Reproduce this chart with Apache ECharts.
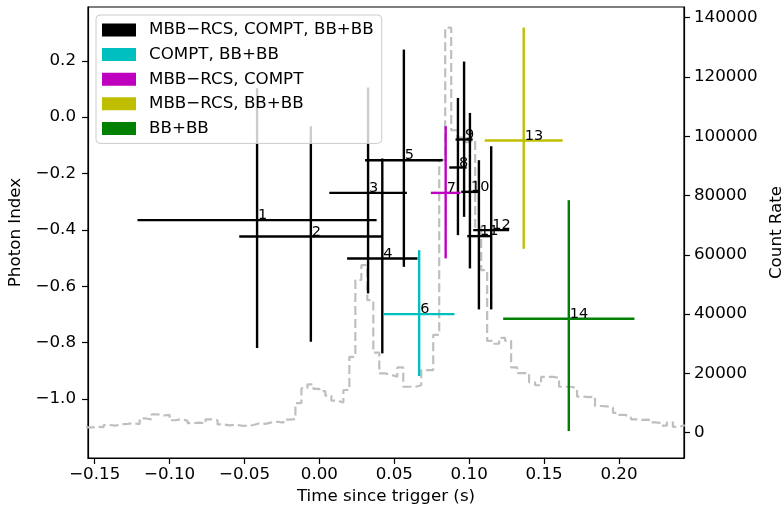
<!DOCTYPE html>
<html>
<head>
<meta charset="utf-8">
<script src="https://cdn.jsdelivr.net/npm/echarts@6/dist/echarts.min.js"></script>
<style>
  html, body { margin: 0; padding: 0; background: #ffffff; }
  #chart { width: 784px; height: 506px; }
</style>
</head>
<body>
<div id="chart"></div>
<script>
// Time-resolved spectral fits: photon index per interval, with the burst light curve behind.
const spectrumId = [1, 2, 3, 4, 5, 6, 7, 8, 9, 10, 11, 12, 13, 14];
const spectrumTime = [-0.0416, -0.0057, 0.0325, 0.0420, 0.0564, 0.0666, 0.0843, 0.0925, 0.0966, 0.1005, 0.1065, 0.1147, 0.1364, 0.1665];
const spectrumHalfWidth = [0.0798, 0.0478, 0.0259, 0.0235, 0.0259, 0.0236, 0.0099, 0.0058, 0.0057, 0.0058, 0.0078, 0.0120, 0.0260, 0.0438];
const photonIndex = [-0.3656, -0.4234, -0.2688, -0.5014, -0.1528, -0.6989, -0.2688, -0.1787, -0.0794, -0.2652, -0.4223, -0.4011, -0.0830, -0.7156];
const photonIndexLow = [-0.8195, -0.7972, -0.6255, -0.8383, -0.5312, -0.9188, -0.5014, -0.4188, -0.3539, -0.5369, -0.6823, -0.6823, -0.4674, -1.1138];
const photonIndexHigh = [0.1025, -0.0323, 0.1050, -0.1468, 0.2397, -0.4720, -0.0323, 0.0681, 0.1972, 0.0149, -0.1528, -0.1032, 0.3177, -0.2947];
// which group of preferred models each interval belongs to (index into modelGroups)
const spectrumGroup = [0, 0, 0, 0, 0, 1, 2, 0, 0, 0, 0, 0, 3, 4];
const modelGroups = ['MBB\u2212RCS, COMPT, BB+BB', 'COMPT, BB+BB', 'MBB\u2212RCS, COMPT', 'MBB\u2212RCS, BB+BB', 'BB+BB'];
const groupColors = ['#000000', '#00bfbf', '#bf00bf', '#bfbf00', '#008000'];

// Light curve: 4 ms bins starting at -0.156 s
const binStart = -0.156;
const binWidth = 0.004;
const countRate = [
  1800, 2000, 1900, 2600, 2400, 2900, 3000, 3200, 2900, 4800,
  4500, 6200, 5800, 6000, 4200, 4600, 4000, 3200, 3400, 3100,
  4500, 4200, 2800, 2500, 2700, 2400, 2300, 2600, 3200, 3000,
  3500, 3700, 3400, 4400, 4600, 10000, 15000, 16300, 14800, 14000,
  12500, 10800, 10200, 14400, 25600, 51500, 56500, 44700, 27000, 20000,
  19500, 18900, 22000, 15500, 15500, 16000, 21100, 21100, 33000, 92000,
  136600, 102000, 99500, 98000, 98600, 69400, 54800, 31000, 30000, 32000,
  31000, 22000, 20100, 20100, 17000, 16000, 18800, 18800, 18500, 15500,
  15500, 15000, 12200, 12000, 12200, 9000, 8900, 8500, 6700, 6000,
  5400, 4500, 4300, 4400, 3500, 3300, 2400, 3500, 2000, 2500
];

const timeTicks = [-0.15, -0.10, -0.05, 0.00, 0.05, 0.10, 0.15, 0.20];
const indexTicks = [-1.0, -0.8, -0.6, -0.4, -0.2, 0.0, 0.2];
const rateTicks = [0, 20000, 40000, 60000, 80000, 100000, 120000, 140000];

const FONT = 'DejaVu Sans';
const minus = s => s.replace('-', '\u2212');

// step-line points: each bin's start, plus the closing edge of the last bin
const curvePoints = countRate.map((c, i) => [binStart + i * binWidth, c]);
curvePoints.push([binStart + countRate.length * binWidth, countRate[countRate.length - 1]]);

function renderErrorBar(params, api) {
  const x = api.value(0), y = api.value(1), hw = api.value(2);
  const lo = api.value(3), hi = api.value(4), id = api.value(5);
  const c = api.coord([x, y]);
  const l = api.coord([x - hw, y]);
  const r = api.coord([x + hw, y]);
  const t = api.coord([x, hi]);
  const b = api.coord([x, lo]);
  const style = { stroke: api.visual('color'), lineWidth: 2.4 };
  return {
    type: 'group',
    children: [
      { type: 'line', shape: { x1: l[0], y1: c[1], x2: r[0], y2: c[1] }, style: style },
      { type: 'line', shape: { x1: c[0], y1: t[1], x2: c[0], y2: b[1] }, style: style },
      { type: 'text', x: c[0] + 1, y: c[1] + 3, z2: 10,
        style: { text: String(id), fill: '#000000', font: '14.5px "' + FONT + '"',
                 align: 'left', verticalAlign: 'bottom' } }
    ]
  };
}

const errorSeries = modelGroups.map((name, g) => ({
  name: name,
  type: 'custom',
  xAxisIndex: 0,
  yAxisIndex: 0,
  z: 2,
  clip: false,
  itemStyle: { color: groupColors[g] },
  encode: { x: 0, y: 1 },
  renderItem: renderErrorBar,
  data: spectrumId
    .map((id, i) => [spectrumTime[i], photonIndex[i], spectrumHalfWidth[i], photonIndexLow[i], photonIndexHigh[i], id, spectrumGroup[i]])
    .filter(d => d[6] === g)
}));

const axisText = { fontFamily: FONT, fontSize: 16.7, color: '#000000' };
const blackLine = { color: '#000000', width: 1.2 };

const option = {
  animation: false,
  backgroundColor: '#ffffff',
  grid: {
    left: 88, right: 100, top: 7, bottom: 48,
    outerBoundsMode: 'none', containLabel: false,
    show: true, borderColor: '#000000', borderWidth: 1.2, backgroundColor: 'transparent'
  },
  legend: {
    orient: 'vertical',
    left: 96, top: 15,
    itemWidth: 34, itemHeight: 13, itemGap: 4.6,
    padding: [5, 8, 5, 6],
    backgroundColor: 'rgba(255,255,255,0.8)',
    borderColor: '#cccccc', borderWidth: 1, borderRadius: 4,
    icon: 'rect',
    textStyle: { fontFamily: FONT, fontSize: 16.7, color: '#000000', lineHeight: 20, padding: [0, 0, 0, 8] },
    data: modelGroups,
    selectedMode: false
  },
  xAxis: {
    type: 'value',
    min: -0.15448, max: 0.24342,
    name: 'Time since trigger (s)',
    nameLocation: 'middle', nameGap: 26,
    nameTextStyle: axisText,
    axisLine: { show: true, onZero: false, lineStyle: blackLine },
    axisTick: { show: true, length: 6, inside: false, customValues: timeTicks, lineStyle: blackLine },
    axisLabel: { ...axisText, margin: 8, customValues: timeTicks, formatter: v => minus(v.toFixed(2)) },
    splitLine: { show: false }
  },
  yAxis: [
    {
      type: 'value',
      min: -1.2096, max: 0.3908,
      position: 'left',
      name: 'Photon Index',
      nameLocation: 'middle', nameGap: 58,
      nameTextStyle: axisText,
      axisLine: { show: true, onZero: false, lineStyle: blackLine },
      axisTick: { show: true, length: 6, customValues: indexTicks, lineStyle: blackLine },
      axisLabel: { ...axisText, margin: 12, customValues: indexTicks, formatter: v => minus(v.toFixed(1)) },
      splitLine: { show: false }
    },
    {
      type: 'value',
      min: -8530, max: 143570,
      position: 'right',
      name: 'Count Rate',
      nameLocation: 'middle', nameGap: 80,
      nameTextStyle: axisText,
      axisLine: { show: true, onZero: false, lineStyle: blackLine },
      axisTick: { show: true, length: 6, customValues: rateTicks, lineStyle: blackLine },
      axisLabel: { ...axisText, margin: 10, customValues: rateTicks, formatter: v => String(Math.round(v)) },
      splitLine: { show: false }
    }
  ],
  series: [
    {
      name: 'Light curve',
      type: 'line',
      xAxisIndex: 0,
      yAxisIndex: 1,
      step: 'end',
      z: 1,
      symbol: 'none',
      clip: true,
      lineStyle: { color: '#bfbfbf', width: 2.2, type: [9, 4] },
      data: curvePoints
    },
    ...errorSeries
  ]
};

const chart = echarts.init(document.getElementById('chart'), null, { renderer: 'canvas' });
chart.setOption(option);
</script>
</body>
</html>
